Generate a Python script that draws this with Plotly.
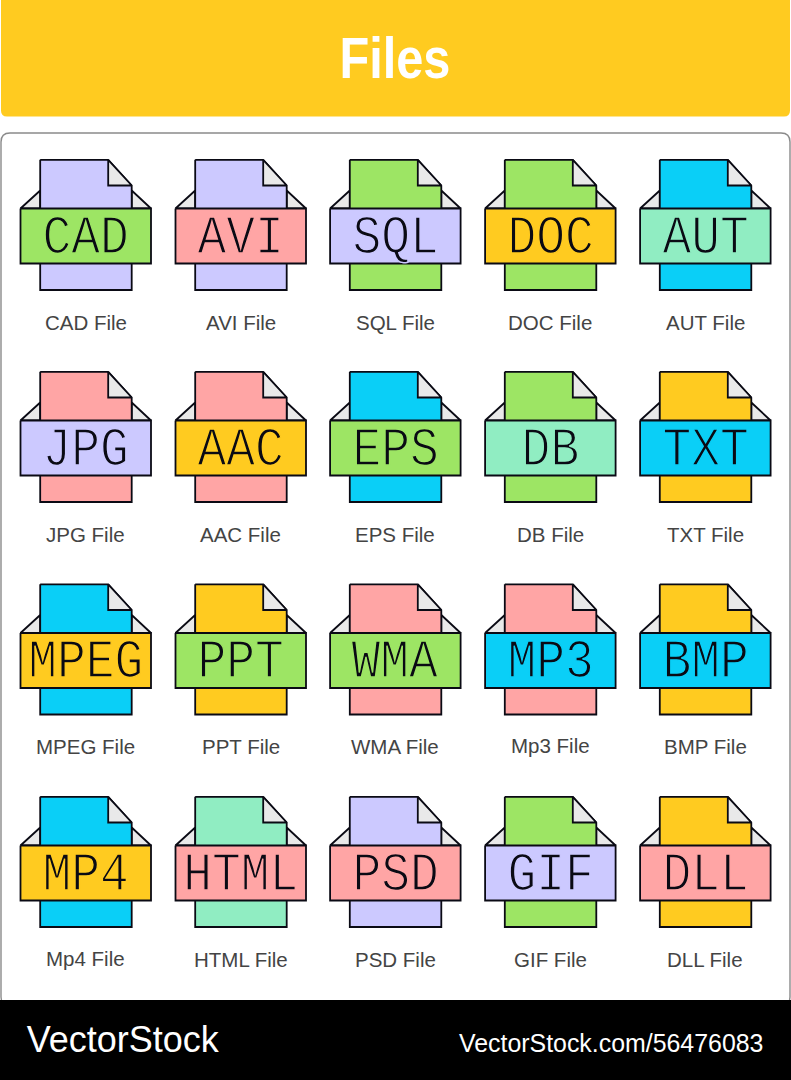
import json
import plotly.graph_objects as go

title = "Files"
footer_left = "VectorStock"
footer_right = "VectorStock.com/56476083"

LILAC, GREEN, PINK, YELLOW, CYAN, MINT = "#CCC9FF", "#9DE564", "#FFA5A5", "#FFCB20", "#0ACFF7", "#90EDC2"
FOLD = "#E9E9E9"
INK = "#0A0A14"

badges = ["CAD", "AVI", "SQL", "DOC", "AUT",
          "JPG", "AAC", "EPS", "DB", "TXT",
          "MPEG", "PPT", "WMA", "MP3", "BMP",
          "MP4", "HTML", "PSD", "GIF", "DLL"]
captions = ["CAD File", "AVI File", "SQL File", "DOC File", "AUT File",
            "JPG File", "AAC File", "EPS File", "DB File", "TXT File",
            "MPEG File", "PPT File", "WMA File", "Mp3 File", "BMP File",
            "Mp4 File", "HTML File", "PSD File", "GIF File", "DLL File"]
sheet_colors = [LILAC, LILAC, GREEN, GREEN, CYAN,
                PINK, PINK, CYAN, GREEN, YELLOW,
                CYAN, YELLOW, PINK, PINK, YELLOW,
                CYAN, MINT, LILAC, GREEN, YELLOW]
band_colors = [GREEN, PINK, LILAC, YELLOW, MINT,
               LILAC, YELLOW, GREEN, MINT, CYAN,
               YELLOW, GREEN, GREEN, CYAN, CYAN,
               YELLOW, PINK, PINK, LILAC, PINK]
caption_shift = [0, 0, 0, 0, 0,
                 0, 0, 0, 0, 0,
                 0, 0, 0, -1, 0,
                 -1, 0, 0, 0, 0]
col_x = [85.7, 240.7, 395.3, 550.3, 705.3]
row_y = [0, 212, 424.5, 637]

fig = go.Figure()

def poly(xs, ys, fill, width=1.8, line=INK):
    fig.add_trace(go.Scatter(x=xs, y=ys, mode="lines", fill="toself", fillcolor=fill,
                             line=dict(color=line, width=width), hoverinfo="skip", showlegend=False))

for i, name in enumerate(badges):
    cx = col_x[i % 5]
    dy = row_y[i // 5]
    poly([cx-45.5, cx-65.2, cx-45.5, cx-45.5], [dy+190.5, dy+208.5, dy+208.5, dy+190.5], FOLD)
    poly([cx+46, cx+65.3, cx+46, cx+46], [dy+190.5, dy+208.5, dy+208.5, dy+190.5], FOLD)
    poly([cx-45.5, cx+22.5, cx+46, cx+46, cx-45.5, cx-45.5],
         [dy+159.8, dy+159.8, dy+185.5, dy+290, dy+290, dy+159.8], sheet_colors[i])
    poly([cx+22.5, cx+22.5, cx+46, cx+22.5], [dy+159.8, dy+185.5, dy+185.5, dy+159.8], FOLD)
    poly([cx-65.2, cx+65.3, cx+65.3, cx-65.2, cx-65.2],
         [dy+208.5, dy+208.5, dy+263.5, dy+263.5, dy+208.5], band_colors[i])

def rr(x0, y0, x1, y1, r):
    return (f"M{x0+r},{y0} L{x1-r},{y0} Q{x1},{y0} {x1},{y0+r} L{x1},{y1-r} Q{x1},{y1} {x1-r},{y1} "
            f"L{x0+r},{y1} Q{x0},{y1} {x0},{y1-r} L{x0},{y0+r} Q{x0},{y0} {x0+r},{y0} Z")

shapes = [
    dict(type="path", path=rr(1, -8, 790, 116.5, 6), fillcolor=YELLOW, line=dict(width=0), layer="below"),
    dict(type="path", path=rr(1, 133, 790, 1006, 9), fillcolor="white", line=dict(color="#8A8A8A", width=1.4), layer="below"),
    dict(type="rect", x0=0, x1=791, y0=1000, y1=1080, fillcolor="black", line=dict(width=0), layer="above"),
]

ann = []
def label(x, y, text, size, color, family, xanchor="center"):
    ann.append(dict(x=x, y=y, text=text, showarrow=False, xanchor=xanchor, yanchor="middle",
                    font=dict(family=family, size=size, color=color)))

label(395, 58, f"<b>{title}</b>", 57, "white", "Liberation Sans")
for i, name in enumerate(badges):
    cx = col_x[i % 5]
    dy = row_y[i // 5]
    label(cx, dy+238, name, 54, INK, "Liberation Mono")
    label(cx, dy+322.3+caption_shift[i], captions[i], 20.5, "#444444", "Liberation Sans")
label(22, 1039, footer_left, 37, "white", "Liberation Sans", "left")
label(457, 1043, footer_right, 24.9, "white", "Liberation Sans", "left")

fig.update_layout(
    width=791, height=1080, margin=dict(l=0, r=0, t=0, b=0),
    paper_bgcolor="white", plot_bgcolor="white", showlegend=False,
    xaxis=dict(range=[0, 791], visible=False, fixedrange=True),
    yaxis=dict(range=[1080, 0], visible=False, fixedrange=True),
    shapes=shapes, annotations=ann,
)
# The thin, condensed lettering of the reference has no installed font:
# squeeze the real SVG text and thin its badge letters with an outline in the band colour.
band_map = json.dumps(dict(zip(badges, band_colors)))
squeeze = """
document.body.style.margin='0';document.body.style.overflow='hidden';
var bands=%s;
var gd=document.querySelector('.plotly-graph-div');
gd.querySelectorAll('.annotation-text').forEach(function(t){
  var s=t.textContent, n=null;
  if(s==='Files') n=111;
  else if(s==='VectorStock') n=192;
  else if(bands[s]){
    n=s.length*28.8;
    t.style.stroke=bands[s]; t.style.strokeWidth='1.5px';
  }
  if(n){t.setAttribute('textLength',n);t.setAttribute('lengthAdjust','spacingAndGlyphs');}
});
""" % band_map
fig.write_html("out.html", config={"displayModeBar": False}, post_script=squeeze)
